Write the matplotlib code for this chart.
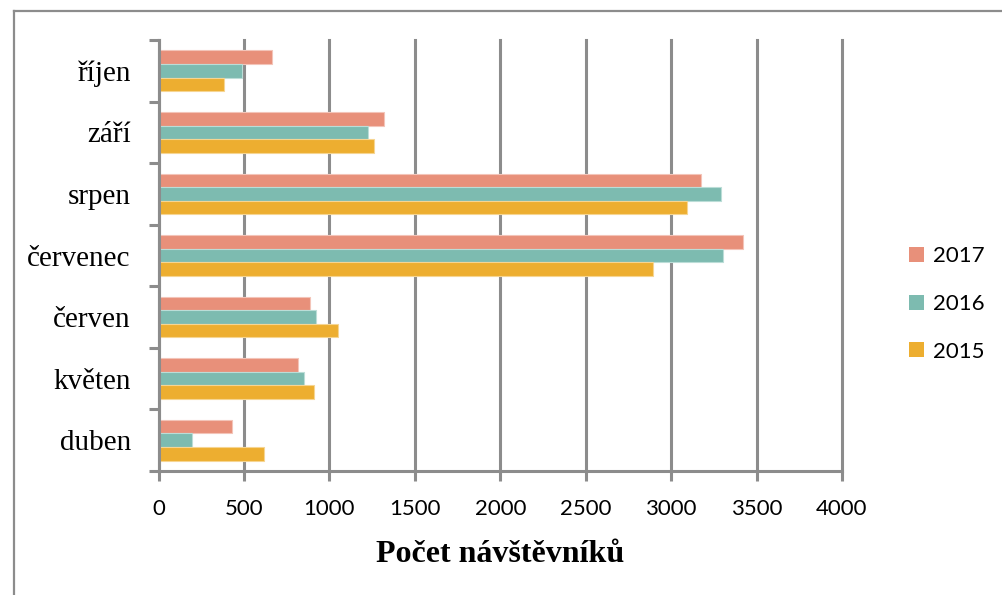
import matplotlib
matplotlib.use("Agg")
import matplotlib.pyplot as plt
from matplotlib.lines import Line2D
from matplotlib.patches import Patch
import numpy as np

# data
months = ["duben", "květen", "červen", "červenec", "srpen", "září", "říjen"]
v2017 = [430, 816, 887, 3422, 3176, 1318, 664]
v2016 = [197, 851, 922, 3304, 3292, 1224, 488]
v2015 = [617, 910, 1051, 2895, 3095, 1260, 383]
years = ["2017", "2016", "2015"]
xticks = [0, 500, 1000, 1500, 2000, 2500, 3000, 3500, 4000]

colors = {"2017": "#E8907A", "2016": "#7DBBB0", "2015": "#EDAE30"}
edges = {"2017": "#F3C4B8", "2016": "#BBDDD7", "2015": "#F6D592"}
grey = "#8C8C8C"

W, H = 1002, 595
fig = plt.figure(figsize=(W / 100, H / 100), dpi=100)
ax = fig.add_axes([158.6 / W, 1 - 471 / H, (842 - 158.6) / W, (471 - 40) / H])

y = np.arange(len(months))
h = 0.22
for vals, yr, off in [(v2017, "2017", h), (v2016, "2016", 0), (v2015, "2015", -h)]:
    ax.barh(y + off, vals, height=h, color=colors[yr], edgecolor=edges[yr],
            linewidth=0.8, zorder=3)

ax.set_xlim(0, 4000)
ax.set_ylim(-0.5, len(months) - 0.5)

ax.set_xticks(xticks)
ax.set_xticklabels([str(t) for t in xticks], fontfamily="Lato", fontsize=16)
ax.tick_params(axis="x", length=7, width=2.2, color=grey, pad=13)

# category boundaries as major ticks, names as minor ticks
ax.set_yticks(np.arange(-0.5, len(months), 1.0))
ax.set_yticklabels([])
ax.tick_params(axis="y", which="major", length=7.5, width=2.2, color=grey)
ax.set_yticks(y, minor=True)
ax.set_yticklabels(months, minor=True, fontfamily="Liberation Serif", fontsize=21)
ax.tick_params(axis="y", which="minor", length=0, pad=20)

ax.grid(axis="x", color=grey, linewidth=2.2, zorder=0)
for gl in ax.get_xgridlines():
    gl.set_clip_on(False)
ax.set_axisbelow(True)
for s in ["top", "right"]:
    ax.spines[s].set_visible(False)
for s in ["left", "bottom"]:
    ax.spines[s].set_color(grey)
    ax.spines[s].set_linewidth(2.2)
    ax.spines[s].set_zorder(4)

ax.set_xlabel("Počet návštěvníků", fontfamily="Liberation Serif", fontsize=23,
              fontweight="bold", labelpad=15)

handles = [Patch(facecolor=colors[yr], edgecolor="none") for yr in years]
fig.legend(handles, years, loc="center left", bbox_to_anchor=(898 / W, 1 - 304 / H),
           frameon=False, prop={"family": "Lato", "size": 16}, handlelength=0.66,
           handleheight=0.66, handletextpad=0.42, labelspacing=1.25, borderpad=0)

# outer chart border (top and left edges visible)
fig.add_artist(Line2D([14 / W, 1.0], [1 - 11 / H, 1 - 11 / H], color=grey, lw=1.6,
                      transform=fig.transFigure))
fig.add_artist(Line2D([14 / W, 14 / W], [1 - 11 / H, 0], color=grey, lw=1.6,
                      transform=fig.transFigure))

fig.savefig("out.png", dpi=100)
